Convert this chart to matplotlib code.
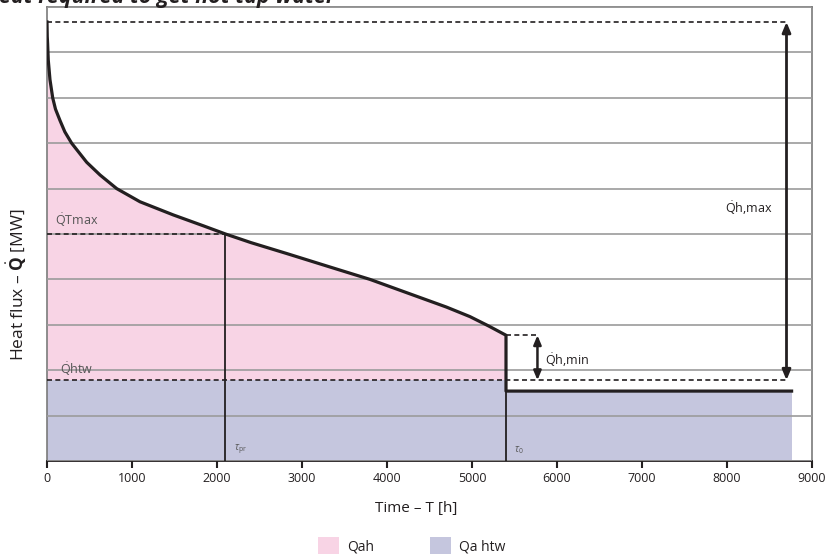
import matplotlib
matplotlib.use("Agg")
import matplotlib.pyplot as plt
from matplotlib.patches import Patch

plt.rcParams['font.family'] = ['Open Sans', 'DejaVu Sans']
plt.rcParams['mathtext.fontset'] = 'custom'
plt.rcParams['mathtext.rm'] = 'Open Sans'
plt.rcParams['mathtext.it'] = 'Open Sans:italic'
plt.rcParams['mathtext.bf'] = 'Open Sans:bold'

# ---- data ----
curve_T = [0, 3, 7, 15, 35, 67, 100, 153, 210, 290, 467, 624, 820, 1094, 1486,
           1840, 2100, 2400, 2820, 3300, 3800, 4390, 4700, 4976, 5200, 5400]
curve_Q = [9.67, 9.35, 9.2, 8.83, 8.4, 8.0, 7.75, 7.5, 7.25, 7.0, 6.58, 6.30, 6.0,
           5.71, 5.42, 5.18, 5.0, 4.81, 4.57, 4.29, 4.0, 3.6, 3.39, 3.18, 2.97, 2.77]
summer_T = [5400, 8760]
summer_Q = [1.54, 1.54]
Q_max = 9.67
Q_htw = 1.78
Q_Tmax = 5.0
T_pr = 2100
T_0 = 5400
T_arrow_max = 8700
T_arrow_min = 5770
x_ticks = [0, 1000, 2000, 3000, 4000, 5000, 6000, 7000, 8000, 9000]
y_grid = [0, 1, 2, 3, 4, 5, 6, 7, 8, 9, 10]

pink = '#F8D4E5'
lav = '#C5C6DE'
ink = '#231F20'
gridc = '#9B9B9B'

fig = plt.figure(figsize=(8.29, 5.58), dpi=100)
ax = fig.add_axes([47/829, 1-461/558, 765/829, 454/558])

# fills
ax.fill_between(curve_T, Q_htw, curve_Q, color=pink, lw=0, zorder=1)
ax.fill_between([0, T_0], 0, Q_htw, color=lav, lw=0, zorder=1)
ax.fill_between(summer_T, 0, summer_Q, color=lav, lw=0, zorder=1)

# grid
ax.set_ylim(0, 10)
ax.set_xlim(0, 9000)
ax.set_yticks(y_grid)
ax.yaxis.set_tick_params(length=0, labelleft=False)
ax.grid(axis='y', color=gridc, lw=1.2)
ax.set_axisbelow(False)

# vertical thin lines
ax.plot([T_pr, T_pr], [0, Q_Tmax], color=ink, lw=1.3, zorder=4)
ax.plot([T_0, T_0], [0, summer_Q[0]], color=ink, lw=1.3, zorder=4)

# main curve
ax.plot(curve_T + [T_0] + summer_T[1:], curve_Q + [summer_Q[0]] + summer_Q[1:],
        color=ink, lw=2.3, zorder=5, solid_joinstyle='round')

# dashed lines
dash = dict(color=ink, lw=1.2, ls=(0, (3, 2)), zorder=4)
ax.plot([0, T_arrow_max], [Q_max, Q_max], **dash)
ax.plot([0, T_arrow_max], [Q_htw, Q_htw], **dash)
ax.plot([0, T_pr], [Q_Tmax, Q_Tmax], **dash)
ax.plot([T_0, T_arrow_min], [curve_Q[-1], curve_Q[-1]], **dash)

# arrows
ax.annotate('', xy=(T_arrow_max, Q_max), xytext=(T_arrow_max, Q_htw),
            arrowprops=dict(arrowstyle='<|-|>,head_length=0.6,head_width=0.25',
                            color=ink, lw=2.0, mutation_scale=10,
                            shrinkA=0, shrinkB=0), zorder=6)
ax.annotate('', xy=(T_arrow_min, curve_Q[-1]), xytext=(T_arrow_min, Q_htw),
            arrowprops=dict(arrowstyle='<|-|>,head_length=0.6,head_width=0.25',
                            color=ink, lw=1.8, mutation_scale=9,
                            shrinkA=0, shrinkB=0), zorder=6)

QD = r'$\dot{\mathrm{Q}}$'
# annotations
ax.text(90, Q_Tmax + 0.12, QD + 'Tmax', fontsize=9, color='#555555', va='bottom')
ax.text(150, Q_htw + 0.05, QD + 'htw', fontsize=9, color='#555555', va='bottom')
ax.text(5860, 2.22, QD + 'h,min', fontsize=9, color=ink, va='center')
ax.text(7980, 5.57, QD + 'h,max', fontsize=9, color=ink, va='center')
ax.text(2200, 0.12, r'$\tau_{\mathrm{pr}}$', fontsize=7, color='#555555', va='bottom')
ax.text(5500, 0.12, r'$\tau_{\mathrm{0}}$', fontsize=7, color='#555555', va='bottom')

# spines / ticks
for s in ['left', 'top', 'right']:
    ax.spines[s].set_color('#7A7A7A')
    ax.spines[s].set_linewidth(1.2)
ax.spines['bottom'].set_color(ink)
ax.spines['bottom'].set_linewidth(1.3)
ax.set_xticks(x_ticks)
ax.xaxis.set_tick_params(length=5, width=1.5, color=ink, labelsize=9,
                         labelcolor=ink, pad=3)
ax.set_xlabel('Time – T [h]', fontsize=11, color=ink)
ax.xaxis.set_label_coords(0.482, -0.088)
ax.set_ylabel('Heat flux – ' + r'$\dot{\mathbf{Q}}$' + ' [MW]', fontsize=12.5, color=ink)
ax.yaxis.set_label_coords(-0.024, 0.388)

# title (cut off at the top, as in the reference)
fig.text(-0.019, 1 - 3/558, 'Heat required to get hot tap water', fontsize=15.5,
         fontweight='bold', fontstyle='italic', color=ink, va='baseline', ha='left')

# legend
handles = [Patch(facecolor=pink, edgecolor='none', label='Qah'),
           Patch(facecolor=lav, edgecolor='none', label='Qa htw')]
fig.legend(handles=handles, loc='center', bbox_to_anchor=(412/829, 1 - 546/558),
           ncol=2, frameon=False, fontsize=10, handlelength=1.5, handleheight=1.5,
           columnspacing=4.0, handletextpad=0.6, labelcolor=ink)

fig.savefig('out.png', dpi=100)
